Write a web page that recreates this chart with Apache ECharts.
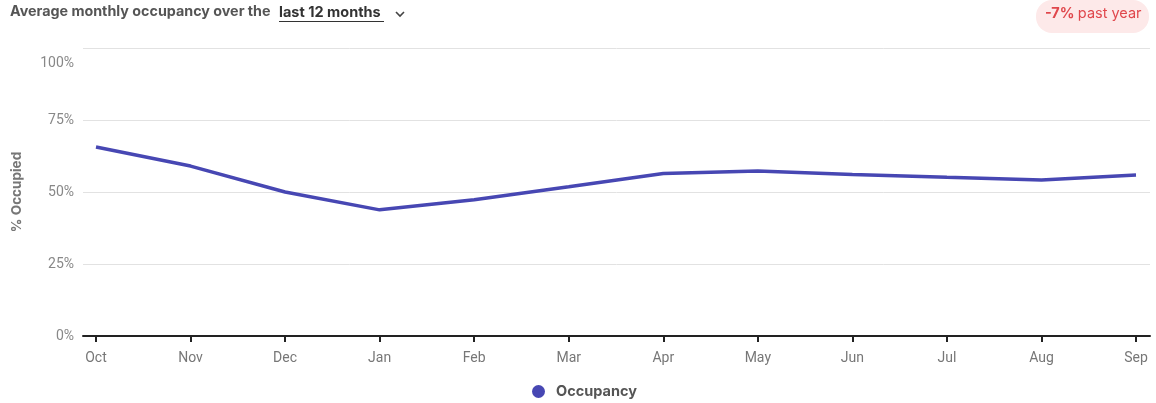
<!DOCTYPE html>
<html>
<head>
    <meta charset="utf-8">
    <title>Occupancy</title>
    <script src="https://cdn.jsdelivr.net/npm/echarts@6/dist/echarts.min.js"></script>
    <style>
        html, body { margin: 0; padding: 0; background: #fff; }
    </style>
</head>
<body>
    <div id="main" style="width: 1156px;height:403px;"></div>
    <script type="text/javascript">
        var myChart = echarts.init(document.getElementById('main'));

        // data
        var months = ['Oct', 'Nov', 'Dec', 'Jan', 'Feb', 'Mar', 'Apr', 'May', 'Jun', 'Jul', 'Aug', 'Sep'];
        var occupancy = [65.6, 59.0, 50.0, 43.8, 47.3, 51.8, 56.4, 57.3, 56.1, 55.1, 54.2, 55.9];
        var yTicks = [0, 25, 50, 75, 100];

        var idx = months.map(function (m, i) { return i; });
        var points = occupancy.map(function (v, i) { return [i, v]; });

        myChart.setOption({
            animation: false,
            textStyle: { fontFamily: 'Roboto' },
            grid: { left: 83, right: 6, top: 48, bottom: 67 },
            legend: {
                top: 379,
                left: 527,
                icon: 'circle',
                itemWidth: 13,
                itemHeight: 13,
                textStyle: { color: '#555', fontFamily: 'Inter', fontWeight: 'bold', fontSize: 14.5, padding: [0, 0, 0, 6] },
                data: ['Occupancy']
            },
            xAxis: {
                type: 'value',
                min: -0.1375,
                max: 11.148,
                splitLine: { show: false },
                axisLine: { show: true, lineStyle: { color: '#222', width: 2 } },
                axisTick: {
                    show: true,
                    customValues: idx,
                    length: 6,
                    lineStyle: { color: '#222', width: 2 }
                },
                axisLabel: {
                    customValues: idx,
                    color: '#777',
                    fontSize: 14,
                    margin: 15,
                    formatter: function (v) { return months[Math.round(v)]; }
                }
            },
            yAxis: {
                type: 'value',
                min: 0,
                max: 100,
                interval: 25,
                name: '% Occupied',
                nameLocation: 'middle',
                nameGap: 59,
                nameTextStyle: { color: '#777', fontFamily: 'Inter', fontWeight: 'bold', fontSize: 13.5 },
                axisLine: { show: false },
                axisTick: { show: false },
                axisLabel: {
                    color: '#888',
                    fontSize: 14,
                    margin: 9,
                    formatter: function (v) {
                        if (v === 100) return '{top|100%}';
                        return yTicks.indexOf(v) >= 0 ? v + '%' : '';
                    },
                    rich: {
                        top: { color: '#888', fontSize: 14, padding: [30, 0, 0, 0] }
                    }
                },
                splitLine: { lineStyle: { color: '#e2e2e2', width: 1 } }
            },
            series: [{
                name: 'Occupancy',
                type: 'line',
                data: points,
                symbol: 'none',
                lineStyle: { color: '#4747b3', width: 3.5 },
                itemStyle: { color: '#4747b3' }
            }],
            graphic: [
                {
                    type: 'text',
                    left: 10,
                    top: 5,
                    style: {
                        text: 'Average monthly occupancy over the',
                        fill: '#555',
                        font: 'bold 14.3px Inter'
                    }
                },
                {
                    type: 'text',
                    left: 279,
                    top: 5,
                    style: {
                        text: 'last 12 months',
                        fill: '#333',
                        font: 'bold 14.5px Inter'
                    }
                },
                {
                    type: 'line',
                    shape: { x1: 279, y1: 21.5, x2: 384, y2: 21.5 },
                    style: { stroke: '#333', lineWidth: 1 }
                },
                {
                    type: 'polyline',
                    shape: { points: [[396, 12], [400, 16], [404, 12]] },
                    style: { stroke: '#444', lineWidth: 1.6, fill: null }
                },
                {
                    type: 'rect',
                    shape: { x: 1036, y: 0, width: 113, height: 33, r: 16 },
                    style: { fill: '#fde9e9' }
                },
                {
                    type: 'text',
                    left: 1045,
                    top: 6,
                    style: {
                        rich: {
                            a: { fill: '#e0474c', font: 'bold 14.5px Inter' },
                            b: { fill: '#e0474c', font: '14.5px Inter' }
                        },
                        text: '{a|-7%} {b|past year}'
                    }
                }
            ]
        });
    </script>
</body>
</html>
